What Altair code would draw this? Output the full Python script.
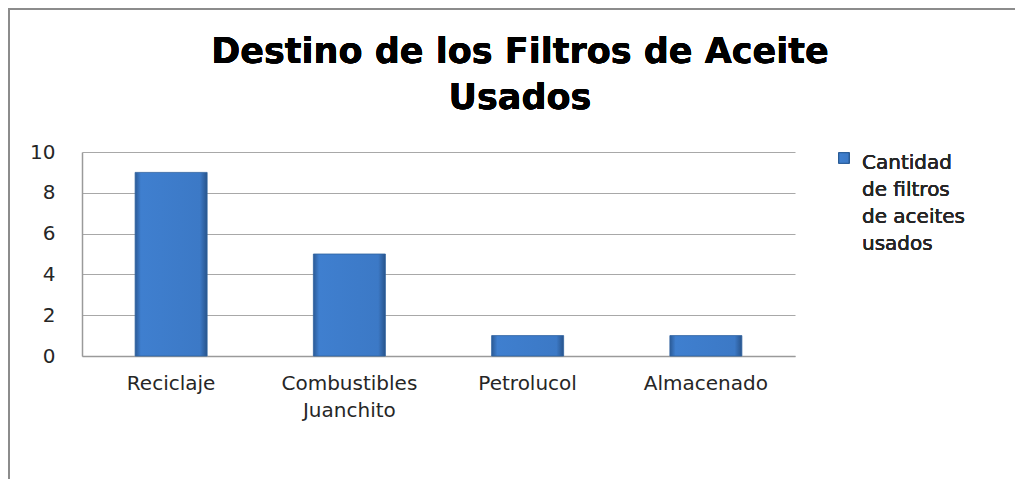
import altair as alt
import pandas as pd

categorias = ["Reciclaje", "Combustibles Juanchito", "Petrolucol", "Almacenado"]
cantidades = [9, 5, 1, 1]
serie_lineas = ["Cantidad", "de filtros", "de aceites", "usados"]
titulo = ["Destino de los Filtros de Aceite", "Usados"]
y_ticks = [0, 2, 4, 6, 8, 10]

df = pd.DataFrame({"categoria": categorias, "cantidad": cantidades})

FONT = "DejaVu Sans"
TXT = "#262626"

gradient = alt.LinearGradient(
    gradient="linear", x1=0, x2=1, y1=0, y2=0,
    stops=[
        alt.GradientStop(color="#2b5a96", offset=0),
        alt.GradientStop(color="#3f7fcf", offset=0.08),
        alt.GradientStop(color="#3c79c6", offset=0.9),
        alt.GradientStop(color="#28548c", offset=1),
    ],
)

x_enc = alt.X(
    "categoria:N", sort=categorias, title=None,
    scale=alt.Scale(paddingInner=0, paddingOuter=0),
    axis=alt.Axis(labelAngle=0, labelExpr="split(datum.label, ' ')", labelFontSize=20,
                  labelFont=FONT, labelColor=TXT, labelPadding=17, ticks=False,
                  domainColor="#9a9a9a", labelLineHeight=27, labelLimit=300),
)
y_enc = alt.Y(
    "cantidad:Q", title=None,
    scale=alt.Scale(domain=[0, 10]),
    axis=alt.Axis(values=y_ticks, labelFontSize=20, labelFont=FONT, labelColor=TXT,
                  labelPadding=27, ticks=False, domainColor="#9a9a9a", gridColor="#a8a8a8",
                  grid=True),
)

base = alt.Chart(df)

bars = base.mark_bar(size=72, fill=gradient, stroke="#2f629f", strokeWidth=0.8).encode(
    x=x_enc, y=y_enc,
)

leg_sym = base.mark_square(size=110, fill=gradient, stroke="#2a5a94", strokeWidth=0.8,
                           opacity=1).encode(x=alt.value(762), y=alt.value(6))
leg_txt = base.mark_text(text=serie_lineas, lineHeight=27, align="left", baseline="alphabetic",
                         font=FONT, fontSize=20, color=TXT).encode(
    x=alt.value(780), y=alt.value(17))

title_txt = base.mark_text(text=titulo, lineHeight=46, align="center", baseline="alphabetic",
                           font=FONT, fontSize=35, fontWeight="bold", color="#000000").encode(
    x=alt.value(438), y=alt.value(-89))

frame_left = base.mark_rule(color="#8c8c8c", strokeWidth=2).encode(
    x=alt.value(-73), y=alt.value(-143), y2=alt.value(330))
frame_top = base.mark_rule(color="#8c8c8c", strokeWidth=2).encode(
    x=alt.value(-74), x2=alt.value(940), y=alt.value(-143))

chart = alt.layer(bars, leg_sym, leg_txt, title_txt, frame_left, frame_top).properties(
    width=713, height=204,
    padding={"left": 74, "top": 144, "right": 220, "bottom": 123},
    autosize=alt.AutoSizeParams(type="none"),
).configure_view(stroke=None).configure_axis(domainWidth=1.5)

chart.save("out.html", embed_options={"renderer": "svg", "actions": False})
